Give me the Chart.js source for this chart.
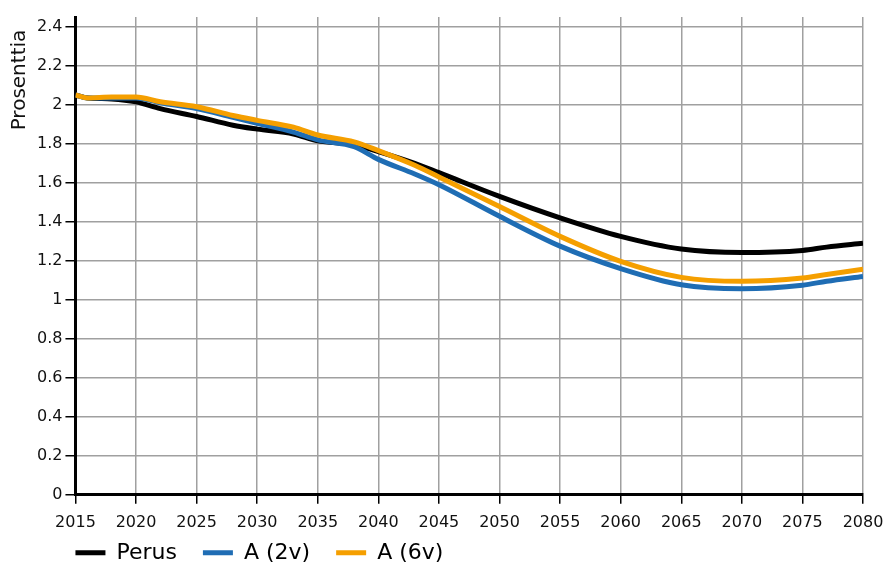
<!DOCTYPE html>
<html>
<head>
<meta charset="utf-8">
<script src="https://cdn.jsdelivr.net/npm/chart.js@4.4.1/dist/chart.umd.min.js"></script>
<style>
  html, body { margin: 0; padding: 0; background: #fff; }
  #wrap { width: 886px; height: 565px; }
</style>
</head>
<body>
<div id="wrap"><canvas id="chart" width="886" height="565"></canvas></div>
<script>
// Vuodet ja sarjat (luettu kuvasta)
const years = [2015, 2016, 2018, 2020, 2022, 2025, 2028, 2030, 2033, 2035, 2038, 2040, 2043, 2045, 2050, 2055, 2060, 2065, 2070, 2075, 2077, 2080];
const perus = [2.05, 2.035, 2.03, 2.015, 1.98, 1.94, 1.895, 1.875, 1.85, 1.815, 1.795, 1.76, 1.70, 1.652, 1.53, 1.42, 1.325, 1.26, 1.242, 1.253, 1.27, 1.29];
const a2v = [2.05, 2.035, 2.035, 2.035, 2.01, 1.98, 1.935, 1.905, 1.86, 1.82, 1.785, 1.72, 1.645, 1.59, 1.428, 1.275, 1.16, 1.077, 1.057, 1.075, 1.095, 1.12];
const a6v = [2.05, 2.035, 2.04, 2.04, 2.015, 1.99, 1.945, 1.92, 1.885, 1.845, 1.81, 1.765, 1.69, 1.63, 1.478, 1.325, 1.197, 1.115, 1.095, 1.112, 1.13, 1.157];
const yTicks = [0, 0.2, 0.4, 0.6, 0.8, 1, 1.2, 1.4, 1.6, 1.8, 2, 2.2, 2.4];
const seriesNames = ['Perus', 'A (2v)', 'A (6v)'];
const seriesColors = ['#000000', '#1f6db4', '#f59f00'];
const yTitle = 'Prosenttia';

const toPoints = vals => vals.map((v, i) => ({ x: years[i], y: v }));
const FONT = "'DejaVu Sans', Verdana, sans-serif";

// Selitteen korkeus pienemmäksi ja paikka kuvaajan vasempaan reunaan
const legendShift = {
    id: 'legendShift',
    beforeLayout(chart) {
        const lg = chart.legend;
        if (lg && !lg._patched) {
            const fit = lg.fit.bind(lg);
            lg.fit = function () {
                fit();
                this.height = 24;
            };
            lg._patched = true;
        }
    },
    beforeDraw(chart) {
        if (chart.legend) {
            chart.legend.left = chart.chartArea.left - 26;
            chart.legend.top = chart.chartArea.bottom + 21;
        }
    }
};

new Chart(document.getElementById('chart'), {
    type: 'line',
    data: {
        datasets: [
            { label: seriesNames[0], data: toPoints(perus), borderColor: seriesColors[0], backgroundColor: seriesColors[0], borderWidth: 5, order: 2 },
            { label: seriesNames[1], data: toPoints(a2v), borderColor: seriesColors[1], backgroundColor: seriesColors[1], borderWidth: 5, order: 1 },
            { label: seriesNames[2], data: toPoints(a6v), borderColor: seriesColors[2], backgroundColor: seriesColors[2], borderWidth: 5, order: 0 }
        ]
    },
    options: {
        responsive: false,
        animation: false,
        layout: { padding: { left: 8, right: 23, top: 17, bottom: 0 } },
        elements: {
            line: { cubicInterpolationMode: 'monotone', fill: false },
            point: { radius: 0 }
        },
        plugins: {
            tooltip: { enabled: false },
            legend: {
                position: 'bottom',
                align: 'start',
                labels: {
                    usePointStyle: true,
                    pointStyle: 'line',
                    pointStyleWidth: 30,
                    color: '#000',
                    padding: 26,
                    font: { family: FONT, size: 22 },
                    sort: (a, b) => a.datasetIndex - b.datasetIndex
                }
            }
        },
        scales: {
            x: {
                type: 'linear',
                min: 2015,
                max: 2080,
                border: { color: '#000', width: 3 },
                grid: { color: '#a0a0a0', lineWidth: 1.5, tickColor: '#000', tickLength: 9, tickWidth: 1.5 },
                afterFit: scale => {
                    scale.paddingRight = 0;
                },
                ticks: {
                    stepSize: 5,
                    color: '#111',
                    padding: 9,
                    font: { family: FONT, size: 16 },
                    callback: v => String(v),
                    maxRotation: 0
                }
            },
            y: {
                min: 0,
                max: 2.45,
                border: { color: '#000', width: 3 },
                grid: { color: '#a0a0a0', lineWidth: 1.5, tickColor: '#000', tickLength: 10, tickWidth: 1.5 },
                afterBuildTicks: scale => {
                    scale.ticks = yTicks.map(v => ({ value: v }));
                },
                ticks: {
                    color: '#111',
                    padding: 3,
                    font: { family: FONT, size: 16 },
                    callback: v => String(Math.round(v * 10) / 10)
                },
                title: {
                    display: true,
                    text: yTitle + '\u00a0\u00a0',
                    align: 'end',
                    color: '#111',
                    padding: { top: 0, bottom: 2 },
                    font: { family: FONT, size: 20 }
                }
            }
        }
    },
    plugins: [legendShift]
});
</script>
</body>
</html>
